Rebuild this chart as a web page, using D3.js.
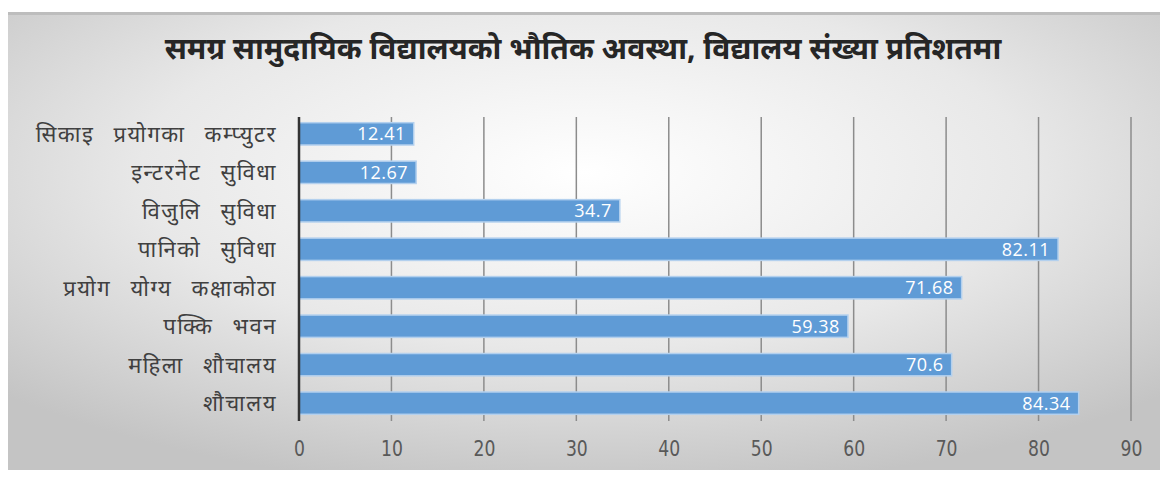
<!DOCTYPE html>
<html>
<head>
<meta charset="utf-8" />
<title>भौतिक अवस्था</title>
<script src="https://d3js.org/d3.v7.min.js"></script>
<style>
  body { margin: 0; background: #fff; }
</style>
</head>
<body>
<svg id="viz"></svg>
<script>
// data
var categories = ["सिकाइ प्रयोगका कम्प्युटर", "इन्टरनेट सुविधा", "विजुलि सुविधा", "पानिको सुविधा",
                  "प्रयोग योग्य कक्षाकोठा", "पक्कि भवन", "महिला शौचालय", "शौचालय"];
var values = [12.41, 12.67, 34.7, 82.11, 71.68, 59.38, 70.6, 84.34];
var tickValues = [0, 10, 20, 30, 40, 50, 60, 70, 80, 90];
var title = "समग्र सामुदायिक विद्यालयको भौतिक अवस्था, विद्यालय संख्या प्रतिशतमा";

var W = 1165, H = 478;
var svg = d3.select("#viz").attr("width", W).attr("height", H);

var defs = svg.append("defs");
var bg = defs.append("radialGradient").attr("id", "bg")
  .attr("cx", "50%").attr("cy", "35%").attr("r", "70%");
bg.append("stop").attr("offset", "0%").attr("stop-color", "#ffffff");
bg.append("stop").attr("offset", "55%").attr("stop-color", "#e8e8e8");
bg.append("stop").attr("offset", "100%").attr("stop-color", "#c4c4c4");

svg.append("rect")
  .attr("x", 8).attr("y", 12)
  .attr("width", 1152).attr("height", 458)
  .attr("fill", "url(#bg)");
svg.append("rect")
  .attr("x", 8).attr("y", 12)
  .attr("width", 1152).attr("height", 3)
  .attr("fill", "#bdbdbd");

var x = d3.scaleLinear().domain([0, 90]).range([299, 1131]);
var y = d3.scaleBand().domain(categories).range([115, 422]).paddingInner(0.42).paddingOuter(0.2);

// grid
svg.append("g").selectAll("line")
  .data(tickValues.slice(1))
  .enter().append("line")
  .attr("x1", function(d) { return x(d); })
  .attr("x2", function(d) { return x(d); })
  .attr("y1", 117).attr("y2", 421)
  .attr("stroke", "#8c8c8c")
  .attr("stroke-width", 1.5);

// bars
svg.append("g").selectAll("rect")
  .data(values)
  .enter().append("rect")
  .attr("x", x(0))
  .attr("y", function(d, i) { return y(categories[i]); })
  .attr("width", function(d) { return x(d) - x(0); })
  .attr("height", y.bandwidth())
  .attr("fill", "#5f9bd6")
  .attr("stroke", "#b3d0ee")
  .attr("stroke-width", 1.5);

// zero line
svg.append("line")
  .attr("x1", x(0)).attr("x2", x(0))
  .attr("y1", 117).attr("y2", 421)
  .attr("stroke", "#333")
  .attr("stroke-width", 2.5);

// value labels
svg.append("g").selectAll("text")
  .data(values)
  .enter().append("text")
  .attr("x", function(d) { return x(d) - 8; })
  .attr("y", function(d, i) { return y(categories[i]) + y.bandwidth() / 2; })
  .attr("dy", "0.36em")
  .attr("text-anchor", "end")
  .attr("fill", "#fff")
  .style("font-family", "'Open Sans', sans-serif")
  .style("font-size", "18px")
  .style("letter-spacing", "0.5px")
  .text(function(d) { return d; });

// category labels
svg.append("g").selectAll("text")
  .data(categories)
  .enter().append("text")
  .attr("x", 277)
  .attr("y", function(d) { return y(d) + y.bandwidth() / 2; })
  .attr("dy", "0.36em")
  .attr("text-anchor", "end")
  .attr("fill", "#404040")
  .style("font-family", "'Noto Sans', sans-serif")
  .style("font-size", "22px")
  .style("letter-spacing", "1.5px")
  .style("word-spacing", "12px")
  .text(function(d) { return d; });

// x axis
var xAxis = d3.axisBottom(x).tickValues(tickValues).tickSize(0).tickPadding(0);
var gx = svg.append("g").attr("transform", "translate(0, 441)").call(xAxis);
gx.select(".domain").remove();
gx.selectAll("text")
  .attr("fill", "#595959")
  .attr("transform", "scale(0.82,1)")
  .style("font-family", "'DejaVu Sans', sans-serif")
  .style("font-size", "21px");

// title
svg.append("text")
  .attr("x", 583).attr("y", 59)
  .attr("text-anchor", "middle")
  .attr("fill", "#262626")
  .style("font-family", "'Noto Sans', sans-serif")
  .style("font-weight", "bold")
  .style("font-size", "30px")
  .text(title);
</script>
</body>
</html>
